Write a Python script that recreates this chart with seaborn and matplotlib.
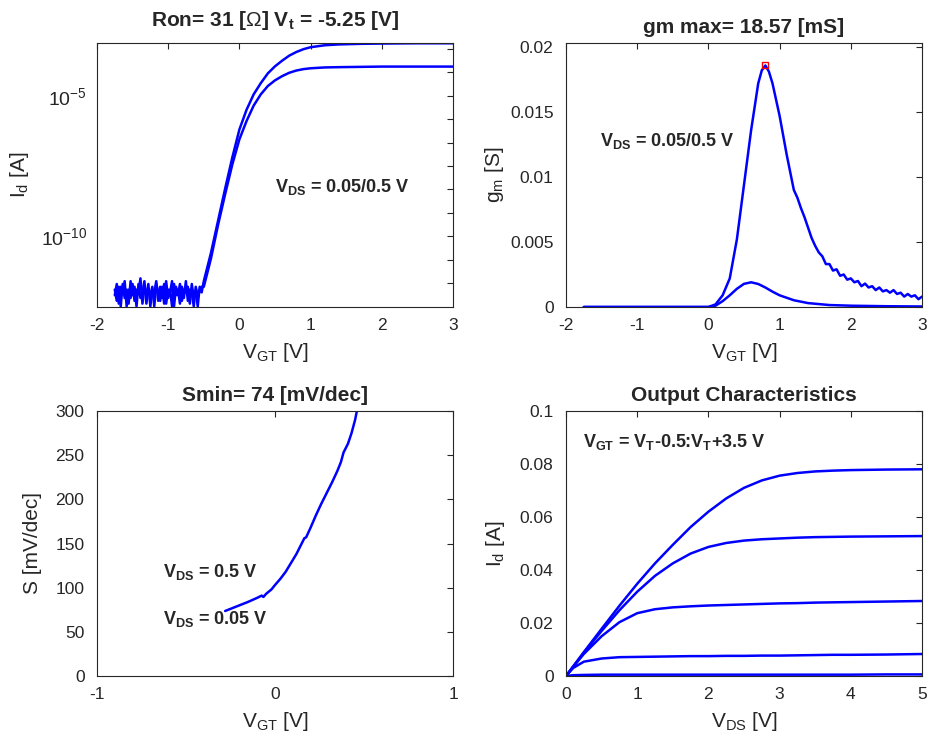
import numpy as np
import pandas as pd
import seaborn as sns
from matplotlib import pyplot as plt
from matplotlib import ticker

# ---- transfer curve (log Id vs VGT) ----
noise_hi = [-12.1, -11.7, -12.4, -11.8, -12.0, -11.6, -12.5, -11.9, -12.2, -11.7, -12.3, -11.9,
            -12.0, -11.5, -12.4, -11.8, -12.1, -11.7, -12.5, -11.9, -12.0, -11.6, -12.3, -11.8,
            -12.2, -11.7, -12.4, -11.9, -12.0, -11.6, -12.5, -11.8, -12.1, -11.7, -12.3, -11.9,
            -12.0, -11.8, -12.4, -11.7, -12.2, -11.9, -12.5, -11.8, -12.0]
noise_lo = [-11.9, -12.3, -11.8, -12.5, -11.7, -12.2, -11.9, -12.4, -11.6, -12.1, -11.8, -12.5,
            -11.7, -12.2, -12.0, -11.6, -12.4, -11.9, -12.1, -11.8, -12.5, -11.7, -12.0, -12.3,
            -11.8, -12.4, -11.6, -12.2, -11.9, -12.5, -11.7, -12.1, -11.9, -12.4, -11.8, -12.2,
            -11.6, -12.3, -11.9, -12.0, -12.5, -11.8, -12.1, -11.9, -11.8]
rise_x = [-0.5, -0.4, -0.3, -0.2, -0.1, 0.0, 0.1, 0.2, 0.3, 0.4, 0.5, 0.6, 0.7, 0.8, 0.9, 1.0,
          1.2, 1.4, 1.7, 2.0, 2.5, 3.0]
rise_hi = [-11.6, -10.6, -9.45, -8.3, -7.2, -6.2, -5.5, -4.95, -4.55, -4.2, -3.95, -3.75, -3.57,
           -3.44, -3.34, -3.27, -3.2, -3.17, -3.15, -3.14, -3.13, -3.13]
rise_lo = [-11.8, -10.8, -9.6, -8.5, -7.45, -6.55, -5.9, -5.35, -4.95, -4.65, -4.45, -4.3, -4.18,
           -4.1, -4.05, -4.02, -3.99, -3.98, -3.97, -3.96, -3.96, -3.96]
minor_exp = [-3.33, -4.17, -5.83, -6.67, -7.5, -8.33, -9.17, -10.83, -11.67]

# ---- transconductance ----
gm_hi_x = [-1.75, 0.0, 0.1, 0.2, 0.3, 0.4, 0.5, 0.6, 0.7, 0.75, 0.8, 0.85, 0.9, 1.0, 1.1,
           1.2, 1.25, 1.3, 1.35, 1.4, 1.45, 1.5, 1.55, 1.6, 1.65, 1.7, 1.75, 1.8, 1.85, 1.9,
           1.95, 2.0, 2.05, 2.1, 2.15, 2.2, 2.25, 2.3, 2.35, 2.4, 2.45, 2.5, 2.55, 2.6, 2.65,
           2.7, 2.75, 2.8, 2.85, 2.9, 2.95, 3.0]
gm_hi = [0, 0, 0.0002, 0.0009, 0.0022, 0.0052, 0.0094, 0.0136, 0.0172, 0.0182, 0.01857, 0.0181,
         0.0172, 0.0147, 0.0117, 0.0090, 0.0084, 0.0076, 0.0069, 0.0061, 0.0053, 0.0047, 0.0042,
         0.0039, 0.0033, 0.0033, 0.0028, 0.0029, 0.0024, 0.0025, 0.0021, 0.0022, 0.0019, 0.0020,
         0.0016, 0.0018, 0.0015, 0.0016, 0.0013, 0.0015, 0.0012, 0.0013, 0.0011, 0.0013, 0.0010,
         0.0011, 0.0008, 0.0010, 0.0008, 0.0009, 0.0006, 0.0008]
gm_lo_x = [-1.75, 0.0, 0.1, 0.2, 0.3, 0.4, 0.5, 0.6, 0.7, 0.8, 0.9, 1.0, 1.2, 1.4, 1.7, 2.0,
           2.5, 3.0]
gm_lo = [0, 0, 0.0001, 0.00045, 0.0009, 0.0014, 0.00178, 0.0019, 0.00177, 0.0015, 0.00118,
         0.0009, 0.00052, 0.0003, 0.00015, 0.0001, 0.00006, 0.00004]
gm_peak_x, gm_peak = 0.8, 0.01857

# ---- subthreshold swing ----
ss_x = [-0.28, -0.25, -0.2, -0.15, -0.1, -0.075, -0.065, -0.05, -0.02, 0.0, 0.03, 0.06, 0.09,
        0.12, 0.15, 0.165, 0.175, 0.2, 0.23, 0.26, 0.29, 0.32, 0.35, 0.37, 0.385, 0.395, 0.41,
        0.43, 0.45, 0.46]
ss = [73.6, 76, 80, 84, 88.5, 91, 89.5, 93, 98, 103, 110, 118, 128, 138, 150, 156, 157, 168, 182,
      195, 207, 219, 232, 242, 253, 257, 263, 275, 290, 300]

# ---- output characteristics ----
vds = [0, 0.1, 0.25, 0.5, 0.75, 1.0, 1.25, 1.5, 1.75, 2.0, 2.25, 2.5, 2.75, 3.0, 3.25, 3.5,
       3.75, 4.0, 4.5, 5.0]
id_out = [
    [0, 0.0036, 0.0090, 0.0178, 0.0265, 0.0348, 0.0425, 0.0495, 0.0562, 0.0620, 0.0670, 0.0710,
     0.0738, 0.0756, 0.0766, 0.0772, 0.0775, 0.0777, 0.0779, 0.0780],
    [0, 0.0035, 0.0088, 0.0170, 0.0248, 0.0318, 0.0378, 0.0425, 0.0462, 0.0487, 0.0502, 0.0511,
     0.0516, 0.0519, 0.0522, 0.0524, 0.0525, 0.0526, 0.0527, 0.0528],
    [0, 0.0034, 0.0083, 0.0150, 0.0203, 0.0237, 0.0252, 0.0259, 0.0263, 0.0266, 0.0268, 0.0270,
     0.0272, 0.0274, 0.0275, 0.0277, 0.0278, 0.0279, 0.0281, 0.0283],
    [0, 0.0030, 0.0054, 0.0066, 0.0071, 0.0072, 0.0073, 0.0074, 0.0075, 0.0075, 0.0076, 0.0076,
     0.0077, 0.0077, 0.0078, 0.0079, 0.0080, 0.0080, 0.0081, 0.0083],
    [0, 0.0003, 0.0004, 0.0005, 0.0005, 0.0005, 0.0005, 0.0005, 0.0005, 0.0005, 0.0005, 0.0005,
     0.0005, 0.0005, 0.0005, 0.0005, 0.0005, 0.0005, 0.0006, 0.0006],
]

sns.set_style("white")
plt.rcParams['font.family'] = ['Liberation Sans', 'DejaVu Sans']
plt.rcParams['mathtext.fontset'] = 'custom'
plt.rcParams['mathtext.rm'] = 'Liberation Sans'
plt.rcParams['mathtext.it'] = 'Liberation Sans:italic'
plt.rcParams['mathtext.bf'] = 'Liberation Sans:bold'
plt.rcParams['axes.unicode_minus'] = False
plt.rcParams['axes.edgecolor'] = '0.15'
plt.rcParams['axes.linewidth'] = 0.8

BLUE = (0, 0, 1)
LW = 1.8
TICK_FS = 12.5
LAB_FS = 15
TITLE_FS = 15
ANN_FS = 13

fig = plt.figure(figsize=(9.3, 7.4), dpi=100)
W, H = 930, 740


def add_ax(left, top, right, bottom):
    return fig.add_axes([left / W, 1 - bottom / H, (right - left) / W, (bottom - top) / H])


ax1 = add_ax(97, 43, 453, 307)
ax2 = add_ax(566, 43, 922, 307)
ax3 = add_ax(97, 411, 453, 676)
ax4 = add_ax(566, 411, 922, 676)

for ax in (ax1, ax2, ax3, ax4):
    ax.tick_params(direction='in', top=True, right=True, length=4, width=0.8,
                   labelsize=TICK_FS, colors='0.15', which='both')
    ax.tick_params(axis='x', pad=8)
    ax.tick_params(axis='y', pad=9)

# transfer curve
nx_hi = np.linspace(-1.75, -0.53, len(noise_hi))
nx_lo = np.linspace(-1.75, -0.53, len(noise_lo))
sns.lineplot(x=np.concatenate([nx_hi, rise_x]), y=10 ** np.concatenate([noise_hi, rise_hi]),
             ax=ax1, color=BLUE, lw=LW, sort=False)
sns.lineplot(x=np.concatenate([nx_lo, rise_x]), y=10 ** np.concatenate([noise_lo, rise_lo]),
             ax=ax1, color=BLUE, lw=LW, sort=False)
ax1.set_yscale('log')
ax1.set_xlim(-2, 3)
ax1.set_ylim(10 ** -12.52, 10 ** -3.12)
ax1.yaxis.set_major_locator(ticker.FixedLocator([1e-10, 1e-5]))
ax1.yaxis.set_minor_locator(ticker.FixedLocator([10 ** e for e in minor_exp]))
ax1.yaxis.set_minor_formatter(ticker.NullFormatter())
ax1.tick_params(axis='y', labelsize=14, pad=7)
ax1.set_xticks([-2, -1, 0, 1, 2, 3])
ax1.set_xlabel(r'V$_{\mathrm{GT}}$ [V]', fontsize=LAB_FS, labelpad=6)
ax1.set_ylabel(r'I$_{\mathrm{d}}$ [A]', fontsize=LAB_FS)
ax1.yaxis.set_label_coords(-0.185, 0.5)
ax1.set_title(r'Ron= 31 [$\Omega$] V$_{\mathbf{t}}$ = -5.25 [V]', fontsize=TITLE_FS,
              fontweight='bold', pad=12)
ax1.text(0.5, 10 ** -8.23, r'V$_{\mathbf{DS}}$ = 0.05/0.5 V', fontsize=ANN_FS,
         fontweight='bold', va='center')

# transconductance
sns.lineplot(x=gm_hi_x, y=gm_hi, ax=ax2, color=BLUE, lw=LW, sort=False)
sns.lineplot(x=gm_lo_x, y=gm_lo, ax=ax2, color=BLUE, lw=LW, sort=False)
ax2.plot([gm_peak_x], [gm_peak], 's', mfc='none', mec='red', ms=5, mew=1)
ax2.set_xlim(-2, 3)
ax2.set_ylim(0, 0.0203)
ax2.set_xticks([-2, -1, 0, 1, 2, 3])
ax2.set_yticks([0, 0.005, 0.01, 0.015, 0.02])
ax2.yaxis.set_major_formatter(ticker.FuncFormatter(lambda v, p: '%g' % v))
ax2.set_xlabel(r'V$_{\mathrm{GT}}$ [V]', fontsize=LAB_FS, labelpad=6)
ax2.set_ylabel(r'g$_{\mathrm{m}}$ [S]', fontsize=LAB_FS)
ax2.yaxis.set_label_coords(-0.168, 0.5)
ax2.set_title('gm max= 18.57 [mS]', fontsize=TITLE_FS, fontweight='bold', pad=7)
ax2.text(-1.52, 0.0128, r'V$_{\mathbf{DS}}$ = 0.05/0.5 V', fontsize=ANN_FS,
         fontweight='bold', va='center')

# subthreshold swing
sns.lineplot(x=ss_x, y=ss, ax=ax3, color=BLUE, lw=LW, sort=False)
ax3.set_xlim(-1, 1)
ax3.set_ylim(0, 300)
ax3.set_xticks([-1, 0, 1])
ax3.set_yticks([0, 50, 100, 150, 200, 250, 300])
ax3.set_xlabel(r'V$_{\mathrm{GT}}$ [V]', fontsize=LAB_FS, labelpad=6)
ax3.set_ylabel('S [mV/dec]', fontsize=LAB_FS)
ax3.yaxis.set_label_coords(-0.155, 0.5)
ax3.set_title('Smin= 74 [mV/dec]', fontsize=TITLE_FS, fontweight='bold', pad=7)
ax3.text(-0.63, 118, r'V$_{\mathbf{DS}}$ = 0.5 V', fontsize=ANN_FS, fontweight='bold',
         va='center')
ax3.text(-0.63, 64, r'V$_{\mathbf{DS}}$ = 0.05 V', fontsize=ANN_FS, fontweight='bold',
         va='center')

# output characteristics
df_out = pd.DataFrame([(v, i, k) for k, curve in enumerate(id_out) for v, i in zip(vds, curve)],
                      columns=['vds', 'id', 'curve'])
sns.lineplot(data=df_out, x='vds', y='id', hue='curve', palette=[BLUE] * len(id_out),
             ax=ax4, lw=LW, legend=False)
ax4.set_xlim(0, 5)
ax4.set_ylim(0, 0.1)
ax4.set_xticks([0, 1, 2, 3, 4, 5])
ax4.set_yticks([0, 0.02, 0.04, 0.06, 0.08, 0.1])
ax4.yaxis.set_major_formatter(ticker.FuncFormatter(lambda v, p: '%g' % v))
ax4.set_xlabel(r'V$_{\mathrm{DS}}$ [V]', fontsize=LAB_FS, labelpad=6)
ax4.set_ylabel(r'I$_{\mathrm{d}}$ [A]', fontsize=LAB_FS)
ax4.yaxis.set_label_coords(-0.165, 0.5)
ax4.set_title('Output Characteristics', fontsize=TITLE_FS, fontweight='bold', pad=7)
ax4.text(0.24, 0.0883, r'V$_{\mathbf{GT}}$ = V$_{\mathbf{T}}$-0.5:V$_{\mathbf{T}}$+3.5 V',
         fontsize=ANN_FS, fontweight='bold', va='center')

plt.savefig('out.png', dpi=100)
